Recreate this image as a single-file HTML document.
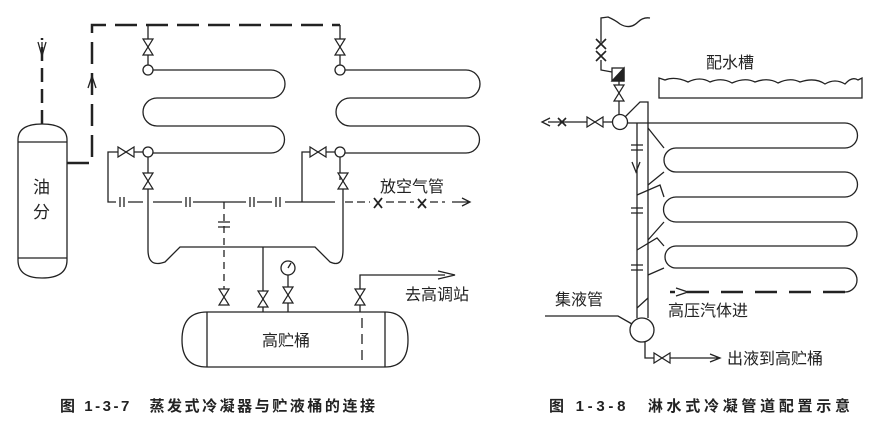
<!DOCTYPE html>
<html><head><meta charset="utf-8"><style>
html,body{margin:0;padding:0;background:#fff;}
svg{display:block;}
text{font-family:"Liberation Sans","Noto Sans CJK SC",sans-serif;fill:#222;}
</style></head><body>
<svg width="885" height="421" viewBox="0 0 885 421" xmlns="http://www.w3.org/2000/svg">
<defs>
<g id="vv" fill="#fff" stroke="#222" stroke-width="1.2"><path d="M-5,-8 L5,-8 L-5,8 L5,8 Z"/></g>
<g id="hv" fill="#fff" stroke="#222" stroke-width="1.2"><path d="M-8,-5 L-8,5 L8,-5 L8,5 Z"/></g>
</defs>
<g fill="none" stroke="#222" stroke-width="1.3">
<path d="M18,140 Q18,124 42,124 Q67,124 67,140 L67,260 Q67,278 42,278 Q18,278 18,260 Z"/>
<line x1="18" y1="142" x2="67" y2="142"/><line x1="18" y1="258" x2="67" y2="258"/>
<line x1="42" y1="124" x2="42" y2="38" stroke-width="2.5" stroke-dasharray="14,7"/>
<path d="M38,42 L42,56 L46,42 M42,42 L42,56"/>
<path d="M67,163 L92,163 L92,25 L340,25" stroke-width="2.5" stroke-dasharray="22,9"/>
<path d="M88,88 L92,76 L96,88"/>
<line x1="148" y1="25" x2="148" y2="65"/><line x1="340" y1="25" x2="340" y2="65"/>
<path d="M153,70 L271,70 A14,14 0 0 1 271,98 L157,98 A14,14 0 0 0 157,126 L271,126 A13.5,13.5 0 0 1 271,153 L153,153"/>
<path d="M345,70 L466,70 A14,14 0 0 1 466,98 L350,98 A14,14 0 0 0 350,126 L466,126 A13.5,13.5 0 0 1 466,153 L345,153"/>
<circle cx="148" cy="70" r="5" fill="#fff"/><circle cx="340" cy="70" r="5" fill="#fff"/>
<circle cx="148" cy="152" r="5" fill="#fff"/><circle cx="340" cy="152" r="5" fill="#fff"/>
<path d="M143,152 L108,152 L108,202 L116,202"/>
<path d="M335,152 L302,152 L302,202"/>
<line x1="148" y1="157" x2="148" y2="180"/><line x1="340" y1="157" x2="340" y2="180"/>
<path d="M128,202 L143,202 M153,202 L182,202 M193,202 L246,202 M257,202 L272,202 M285,202 L335,202"/>
<path d="M120,197 L120,207 M124,197 L124,207 M186,197 L186,207 M190,197 L190,207 M250,197 L250,207 M254,197 L254,207 M276,197 L276,207 M280,197 L280,207"/>
<path d="M345,202 L370,202 M386,202 L414,202 M430,202 L445,202" stroke-dasharray="8,4"/>
<path d="M374,198 L382,208 M382,198 L374,208 M418,199 L426,208 M426,199 L418,208" stroke-width="1.8"/>
<path d="M452,202 L470,202 M462,198 L470,202 L462,206"/>
<path d="M148,180 L148,250 Q148,268 165,262 L180,247 L315,247 L330,262 Q343,268 343,250 L343,180"/>
<path d="M224,202 L224,300" stroke-dasharray="7,5"/>
<path d="M218,222 L230,222 M218,227 L230,227"/>
<line x1="263" y1="247" x2="263" y2="312"/>
<line x1="288" y1="275" x2="288" y2="312"/>
<circle cx="288" cy="268" r="7" fill="#fff"/><line x1="288" y1="268" x2="291" y2="263"/>
<path d="M360,312 L360,275 L445,275"/><path d="M438,271 L455,275 L438,279"/>
<line x1="362" y1="318" x2="362" y2="360" stroke-dasharray="10,6"/>
<path d="M207,312 L385,312 Q408,312 408,340 Q408,367 385,367 L207,367 Q182,367 182,340 Q182,312 207,312 Z"/>
<line x1="207" y1="312" x2="207" y2="367"/><line x1="385" y1="312" x2="385" y2="367"/>
</g>
<use href="#vv" x="148" y="47"/><use href="#vv" x="340" y="47"/>
<use href="#hv" x="126" y="152"/><use href="#hv" x="318" y="152"/>
<use href="#vv" x="148" y="181"/><use href="#vv" x="343" y="181"/>
<use href="#vv" x="224" y="297"/><use href="#vv" x="263" y="299"/><use href="#vv" x="288" y="295"/><use href="#vv" x="360" y="297"/>
<text x="33" y="193" font-size="17">油</text><text x="33" y="218" font-size="17">分</text>
<text x="380" y="192" font-size="16">放空气管</text>
<text x="405" y="300" font-size="16">去高调站</text>
<text x="262" y="346" font-size="16">高贮桶</text>

<g fill="none" stroke="#222" stroke-width="1.3">
<path d="M601,42 L601,18 L608,17 Q615,20 620,24 Q630,30 638,22 Q643,17 650,18"/>
<path d="M601,60 L601,70 L612,72"/>
<path d="M596,39 L606,49 M606,39 L596,49 M596,51 L606,61 M606,51 L596,61" stroke-width="1.6"/>
<rect x="612" y="68" width="12" height="13" fill="#fff"/>
<path d="M624,68 L624,81 L612,81 Z" fill="#222"/>
<line x1="619" y1="81" x2="619" y2="115"/>
<circle cx="620" cy="122" r="7.5" fill="#fff"/>
<path d="M612,122 L548,122 M550,118 L542,122 L550,126"/>
<path d="M558,118 L566,126 M566,118 L558,126" stroke-width="1.6"/>
<path d="M625,117 L640,102 L648,102 L648,318"/>
<path d="M627,123 L654,123 M637,123 L637,318"/>
<path d="M631,145 L643,145 M631,150 L643,150 M631,208 L643,208 M631,213 L643,213 M631,265 L643,265 M631,270 L643,270"/>
<path d="M632,162 L636,172 L640,162"/>
<path d="M659,78 L659,98 L862,98 L862,78 L858,80 Q852,76 845,84 Q835,78 825,84 Q815,77 800,82 Q790,77 778,83 Q768,77 755,82 Q745,77 732,83 Q722,77 710,82 Q700,76 688,82 Q675,76 665,80 Z"/>
<path d="M654,123 L845,123 A12.5,12.5 0 0 1 845,148 L676,148 A12,12 0 0 0 676,172 L845,172 A12.5,12.5 0 0 1 845,197 L676,197 A12.5,12.5 0 0 0 676,222 L845,222 A12,12 0 0 1 845,246 L676,246 A11,11 0 0 0 676,268 L845,268 A12,12 0 0 1 845,292"/>
<path d="M648,128 L664,148 M648,185 L664,172 M637,195 L660,185 L664,197 M648,240 L664,222 M637,250 L657,238 L664,246 M648,275 L664,268 M637,308 L648,298"/>
<path d="M845,292 L670,292" stroke-width="2.5" stroke-dasharray="22,12"/>
<path d="M676,288 L688,292 L676,296"/>
<circle cx="642" cy="330" r="12" fill="#fff"/>
<path d="M545,316 L618,316 L632,324"/>
<path d="M645,342 L645,358 L654,358 M670,358 L718,358 M710,354 L720,358 L710,362"/>
</g>
<use href="#vv" x="619" y="93"/><use href="#hv" x="595" y="122"/><use href="#hv" x="662" y="358"/>
<text x="706" y="68" font-size="16">配水槽</text>
<text x="555" y="305" font-size="16">集液管</text>
<text x="668" y="316" font-size="16">高压汽体进</text>
<text x="727" y="364" font-size="16">出液到高贮桶</text>

<text x="60" y="411" font-size="15" font-weight="bold" textLength="315" lengthAdjust="spacing">图 1-3-7　蒸发式冷凝器与贮液桶的连接</text>
<text x="549" y="411" font-size="15" font-weight="bold" textLength="301" lengthAdjust="spacing">图 1-3-8　淋水式冷凝管道配置示意</text>
</svg>
</body></html>
